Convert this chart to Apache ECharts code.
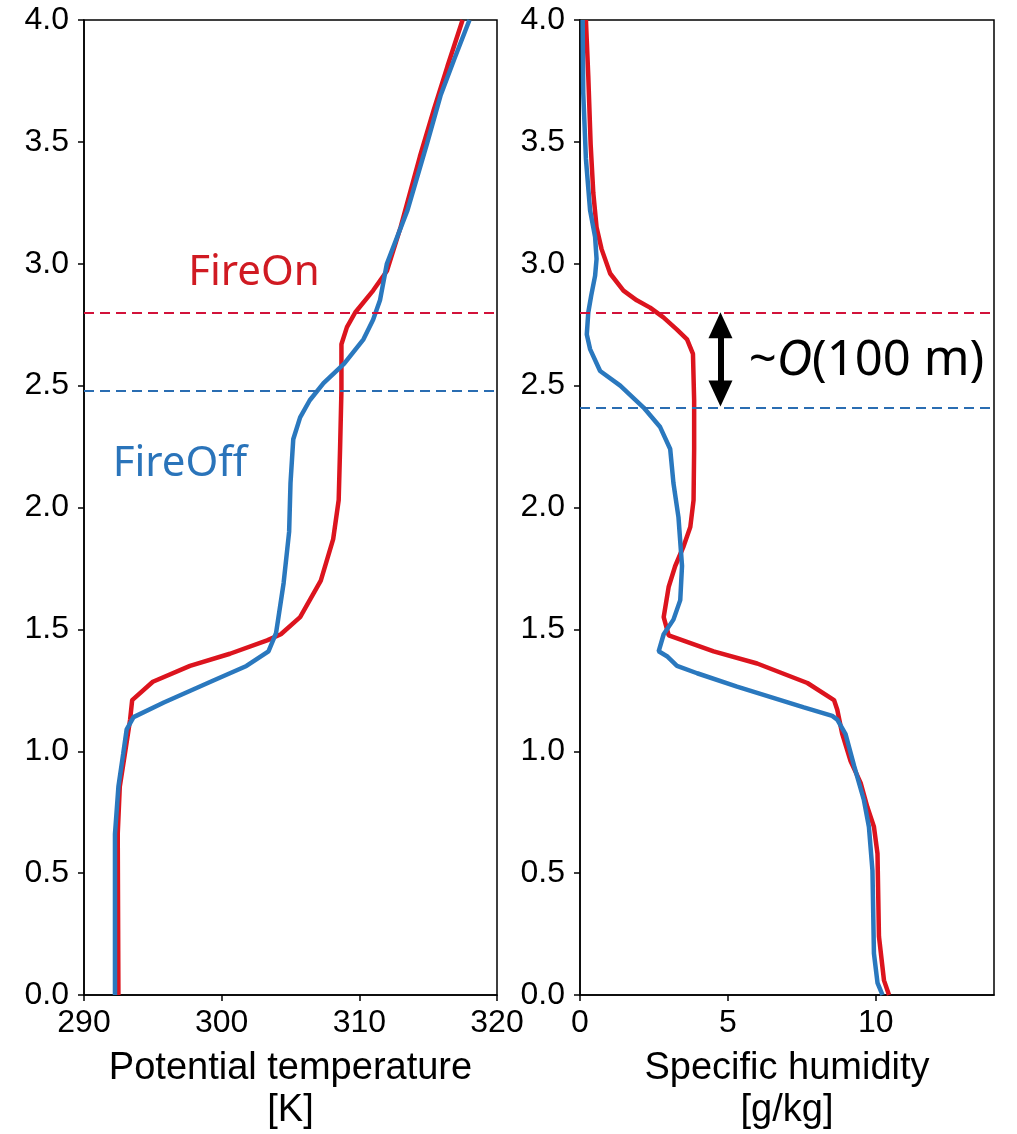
<!DOCTYPE html>
<html>
<head>
<meta charset="utf-8">
<script src="https://cdn.jsdelivr.net/npm/echarts@6/dist/echarts.min.js"></script>
<style>
html,body{margin:0;padding:0;background:#fff;}
#chart{width:1017px;height:1134px;}
</style>
</head>
<body>
<div id="chart"></div>
<script>
// Heights (km) and values
const heightTickLabels = ['0.0','0.5','1.0','1.5','2.0','2.5','3.0','3.5','4.0'];
const thetaTickLabels = ['290','300','310','320'];
const qTickLabels = ['0','5','10'];

const thetaOnZ = [0,0.66,0.855,1.0,1.13,1.21,1.285,1.35,1.40,1.455,1.48,1.55,1.70,1.87,2.03,2.24,2.48,2.67,2.74,2.80,2.89,2.97,3.15,3.44,3.63,3.81,4.0];
const thetaOnT = [292.5,292.45,292.6,293.0,293.35,293.5,295.0,297.7,300.6,303.3,304.3,305.7,307.2,308.1,308.5,308.6,308.7,308.7,309.1,309.7,311.0,312.0,313.0,314.4,315.4,316.4,317.5];

const thetaOffZ = [0,0.66,0.855,0.99,1.09,1.14,1.20,1.29,1.35,1.41,1.485,1.54,1.69,1.90,2.10,2.28,2.37,2.44,2.51,2.59,2.69,2.77,2.85,3.0,3.22,3.49,3.69,3.84,4.0];
const thetaOffT = [292.25,292.25,292.5,292.85,293.1,293.6,295.8,299.4,301.8,303.4,303.95,304.1,304.5,304.9,305.0,305.2,305.7,306.4,307.4,308.9,310.3,311.0,311.5,312.0,313.5,314.9,315.9,316.9,318.0];

const qOnZ = [0,0.06,0.24,0.58,0.69,0.77,0.87,0.96,1.07,1.17,1.21,1.28,1.36,1.41,1.475,1.55,1.675,1.76,1.84,1.92,2.03,2.24,2.44,2.63,2.69,2.73,2.78,2.82,2.85,2.89,2.96,3.06,3.15,3.29,3.49,3.77,4.0];
const qOnV = [10.45,10.28,10.11,10.06,9.94,9.72,9.49,9.15,8.87,8.70,8.59,7.69,5.99,4.52,3.0,2.83,3.0,3.22,3.5,3.73,3.84,3.86,3.86,3.82,3.62,3.28,2.82,2.37,1.92,1.47,1.02,0.73,0.56,0.45,0.36,0.28,0.2];

const qOffZ = [0,0.05,0.17,0.51,0.69,0.80,0.94,1.07,1.13,1.145,1.18,1.265,1.32,1.35,1.39,1.41,1.48,1.54,1.62,1.76,1.96,2.10,2.24,2.33,2.41,2.50,2.56,2.65,2.71,2.80,2.87,2.95,3.02,3.11,3.22,3.43,3.70,4.0];
const qOffV = [10.23,10.06,9.94,9.89,9.77,9.6,9.27,8.98,8.70,8.53,7.57,5.31,3.96,3.28,2.94,2.66,2.83,3.16,3.39,3.45,3.33,3.16,3.05,2.71,2.15,1.36,0.68,0.34,0.23,0.28,0.38,0.51,0.56,0.51,0.34,0.2,0.11,0.09];

// Boundary-layer top heights (dashed lines)
const pblhThetaOn = 2.80, pblhThetaOff = 2.48;
const pblhQOn = 2.80, pblhQOff = 2.41;
// Double arrow: shaft between head centres, heads centred just inside the two heights
const arrowQ = 4.75;
const arrowHeadZ = [2.748, 2.468];
// Annotation anchor points
const labelFireOn = [302.35, 2.96];
const labelFireOff = [296.97, 2.18];
const labelOrder = [5.69, 2.60];

const RED = '#dc141e', BLUE = '#2a78be';
const RED_D = '#d2123a', BLUE_D = '#2a6db2';
const AX_FONT = 'Liberation Sans, Arial, sans-serif';
const ANN_FONT = 'Noto Sans, Open Sans, sans-serif';

function pairs(xs, zs){ return zs.map((z,i)=>[xs[i], z]); }

const chart = echarts.init(document.getElementById('chart'), null, {renderer:'canvas'});

function yAxisCfg(gi){
  return {
    type:'value', gridIndex:gi, min:0, max:4, interval:0.5,
    axisLine:{show:true, lineStyle:{color:'#000', width:1.5}},
    axisTick:{show:true, inside:false, length:6, lineStyle:{color:'#000', width:1.5}},
    axisLabel:{show:true, margin:15, color:'#000', fontSize:32, fontFamily:AX_FONT,
      formatter:(v)=>{ const s = v.toFixed(1); return heightTickLabels.indexOf(s)>=0 ? s : ''; }},
    splitLine:{show:false}
  };
}

function xAxisCfg(gi, min, max, interval, labels, name){
  return {
    type:'value', gridIndex:gi, min:min, max:max, interval:interval,
    axisLine:{show:true, onZero:false, lineStyle:{color:'#000', width:1.5}},
    axisTick:{show:true, inside:false, length:6, lineStyle:{color:'#000', width:1.5}},
    axisLabel:{show:true, margin:12, color:'#000', fontSize:32, fontFamily:AX_FONT,
      showMaxLabel: max % interval === 0,
      formatter:(v)=>{ const s = String(Math.round(v)); return labels.indexOf(s)>=0 ? s : ''; }},
    splitLine:{show:false},
    name:name, nameLocation:'middle', nameGap:53,
    nameTextStyle:{color:'#000', fontSize:38, fontFamily:AX_FONT, lineHeight:42, verticalAlign:'top'}
  };
}

function dashed(value, color){
  return {yAxis:value, lineStyle:{color:color, type:[10,6], width:2}};
}

function textPoint(coord, text, color, pos, size){
  return {
    coord: coord, symbol:'rect', symbolSize:1,
    itemStyle:{color:'rgba(0,0,0,0)'},
    label:{show:true, position:pos, distance:0, formatter:text, color:color,
      fontSize:size, fontFamily:ANN_FONT,
      rich:{it:{fontStyle:'italic', fontSize:size, fontFamily:ANN_FONT, color:color},
            n:{fontSize:size, fontFamily:ANN_FONT, color:color}}}
  };
}

const option = {
  animation:false,
  backgroundColor:'#fff',
  grid:[
    {left:84, top:20, width:413, height:975, outerBoundsMode:'none', containLabel:false,
      show:true, borderColor:'#000', borderWidth:1.5, backgroundColor:'transparent'},
    {left:580, top:20, width:414, height:975, outerBoundsMode:'none', containLabel:false,
      show:true, borderColor:'#000', borderWidth:1.5, backgroundColor:'transparent'}
  ],
  xAxis:[
    xAxisCfg(0, 290, 320, 10, thetaTickLabels, 'Potential temperature\n[K]'),
    xAxisCfg(1, 0, 14, 5, qTickLabels, 'Specific humidity\n[g/kg]')
  ],
  yAxis:[ yAxisCfg(0), yAxisCfg(1) ],
  series:[
    {
      name:'FireOn θ', type:'line', xAxisIndex:0, yAxisIndex:0,
      data: pairs(thetaOnT, thetaOnZ), showSymbol:false, symbol:'none',
      lineStyle:{color:RED, width:4.5}, z:3,
      markLine:{silent:true, symbol:['none','none'], label:{show:false},
        data:[dashed(pblhThetaOn, RED_D), dashed(pblhThetaOff, BLUE_D)]},
      markPoint:{silent:true, data:[
        textPoint(labelFireOn, 'FireOn', '#d01a22', 'inside', 42),
        textPoint(labelFireOff, 'FireOff', '#2a74ba', 'inside', 42)
      ]}
    },
    {
      name:'FireOff θ', type:'line', xAxisIndex:0, yAxisIndex:0,
      data: pairs(thetaOffT, thetaOffZ), showSymbol:false, symbol:'none',
      lineStyle:{color:BLUE, width:4.5}, z:4
    },
    {
      name:'FireOn q', type:'line', xAxisIndex:1, yAxisIndex:1,
      data: pairs(qOnV, qOnZ), showSymbol:false, symbol:'none',
      lineStyle:{color:RED, width:4.5}, z:3,
      markLine:{silent:true, symbol:['none','none'], label:{show:false},
        data:[dashed(pblhQOn, RED_D), dashed(pblhQOff, BLUE_D)]},
      markPoint:{silent:true, data:[
        textPoint(labelOrder, '{n|~}{it|O}{n|(100 m)}', '#000', 'right', 49)
      ]}
    },
    {
      name:'FireOff q', type:'line', xAxisIndex:1, yAxisIndex:1,
      data: pairs(qOffV, qOffZ), showSymbol:false, symbol:'none',
      lineStyle:{color:BLUE, width:4.5}, z:4,
      markLine:{silent:true, symbol:['none','none'], label:{show:false},
        lineStyle:{color:'#000', type:'solid', width:6},
        data:[[{coord:[arrowQ, arrowHeadZ[0]]},{coord:[arrowQ, arrowHeadZ[1]]}]]},
      markPoint:{silent:true, label:{show:false}, data:[
        {coord:[arrowQ, arrowHeadZ[0]], symbol:'triangle', symbolSize:[24,26], itemStyle:{color:'#000'}},
        {coord:[arrowQ, arrowHeadZ[1]], symbol:'triangle', symbolRotate:180, symbolSize:[24,26], itemStyle:{color:'#000'}}
      ]}
    }
  ]
};
chart.setOption(option);
</script>
</body>
</html>
